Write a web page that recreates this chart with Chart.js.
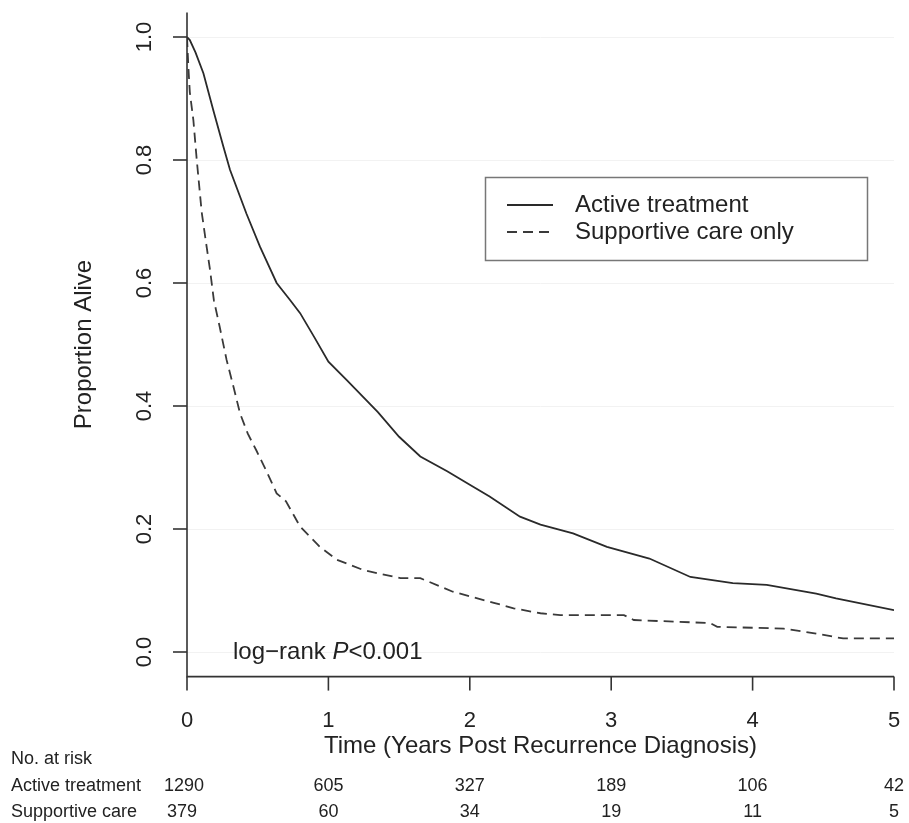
<!DOCTYPE html>
<html>
<head>
<meta charset="utf-8">
<script src="https://cdn.jsdelivr.net/npm/chart.js@4.4.1/dist/chart.umd.min.js"></script>
<style>
  html, body { margin: 0; padding: 0; background: #fff; }
  #km { display: block; }
</style>
</head>
<body>
<canvas id="km" width="909" height="823"></canvas>
<script>
// survival curves (years, proportion alive)
const activeTime = [0, 0.02, 0.06, 0.116, 0.186, 0.257, 0.304, 0.42, 0.516, 0.634, 0.73, 0.80, 0.90, 1.0, 1.13, 1.35, 1.5, 1.65, 1.84, 2.0, 2.14, 2.355, 2.5, 2.73, 2.97, 3.27, 3.56, 3.86, 4.10, 4.45, 4.59, 5.0];
const activeSurv = [1.0, 0.995, 0.975, 0.941, 0.881, 0.822, 0.784, 0.713, 0.659, 0.600, 0.572, 0.551, 0.512, 0.472, 0.442, 0.390, 0.350, 0.318, 0.294, 0.272, 0.253, 0.220, 0.207, 0.193, 0.171, 0.152, 0.122, 0.112, 0.109, 0.095, 0.087, 0.068];

const supportTime = [0, 0.01, 0.02, 0.045, 0.069, 0.104, 0.135, 0.163, 0.19, 0.23, 0.28, 0.33, 0.375, 0.43, 0.49, 0.56, 0.634, 0.70, 0.80, 0.94, 1.06, 1.25, 1.51, 1.65, 1.88, 2.17, 2.31, 2.5, 2.64, 3.09, 3.16, 3.70, 3.75, 4.22, 4.45, 4.64, 5.0];
const supportSurv = [1.0, 0.95, 0.91, 0.865, 0.80, 0.715, 0.665, 0.621, 0.572, 0.53, 0.475, 0.43, 0.388, 0.355, 0.328, 0.295, 0.258, 0.245, 0.204, 0.171, 0.150, 0.133, 0.120, 0.120, 0.098, 0.080, 0.071, 0.063, 0.060, 0.060, 0.052, 0.047, 0.041, 0.038, 0.030, 0.022, 0.022];

const seriesNames = ['Active treatment', 'Supportive care only'];
const xTicks = [0, 1, 2, 3, 4, 5];
const yTicks = [0.0, 0.2, 0.4, 0.6, 0.8, 1.0];

const riskGroups = ['Active treatment', 'Supportive care'];
const activeRisk = [1290, 605, 327, 189, 106, 42];
const supportRisk = [379, 60, 34, 19, 11, 5];

const FONT = '"Liberation Sans", Arial, sans-serif';
const INK = '#222';

function toPoints(xs, ys) {
    return xs.map((x, i) => ({ x: x, y: ys[i] }));
}

const kmDecor = {
    id: 'kmDecor',
    beforeDatasetsDraw(chart) {
        const { ctx, chartArea, scales: { y } } = chart;
        ctx.save();
        ctx.strokeStyle = '#f2f2f2';
        ctx.lineWidth = 1;
        yTicks.forEach(v => {
            const py = Math.round(y.getPixelForValue(v)) + 0.5;
            ctx.beginPath();
            ctx.moveTo(chartArea.left, py);
            ctx.lineTo(chartArea.right, py);
            ctx.stroke();
        });
        ctx.restore();
    },
    afterDraw(chart) {
        const { ctx, chartArea, scales: { x, y } } = chart;
        const ca = chartArea;
        ctx.save();
        ctx.strokeStyle = '#333';
        ctx.fillStyle = INK;
        ctx.lineWidth = 1.6;

        // axis lines (L box)
        ctx.beginPath();
        ctx.moveTo(ca.left, ca.top);
        ctx.lineTo(ca.left, ca.bottom);
        ctx.lineTo(ca.right, ca.bottom);
        ctx.stroke();

        // y ticks + rotated labels
        ctx.font = '22px ' + FONT;
        yTicks.forEach(v => {
            const py = y.getPixelForValue(v);
            ctx.beginPath();
            ctx.moveTo(ca.left - 14, py);
            ctx.lineTo(ca.left, py);
            ctx.stroke();
            ctx.save();
            ctx.translate(ca.left - 42, py);
            ctx.rotate(-Math.PI / 2);
            ctx.textAlign = 'center';
            ctx.textBaseline = 'middle';
            ctx.fillText(v.toFixed(1), 0, 0);
            ctx.restore();
        });

        // x ticks + labels
        xTicks.forEach(v => {
            const px = x.getPixelForValue(v);
            ctx.beginPath();
            ctx.moveTo(px, ca.bottom);
            ctx.lineTo(px, ca.bottom + 14);
            ctx.stroke();
            ctx.textAlign = 'center';
            ctx.textBaseline = 'middle';
            ctx.fillText(String(v), px, 721);
        });

        // axis titles
        ctx.font = '24px ' + FONT;
        ctx.textAlign = 'center';
        ctx.textBaseline = 'middle';
        ctx.fillText('Time (Years Post Recurrence Diagnosis)', (ca.left + ca.right) / 2, 746);
        ctx.save();
        ctx.translate(84, (ca.top + ca.bottom) / 2);
        ctx.rotate(-Math.PI / 2);
        ctx.fillText('Proportion Alive', 0, 0);
        ctx.restore();

        // log-rank note
        ctx.textAlign = 'left';
        const ly = y.getPixelForValue(0);
        let lx = 233;
        ctx.fillText('log\u2212rank ', lx, ly);
        lx += ctx.measureText('log\u2212rank ').width;
        ctx.font = 'italic 24px ' + FONT;
        ctx.fillText('P', lx, ly);
        lx += ctx.measureText('P').width;
        ctx.font = '24px ' + FONT;
        ctx.fillText('<0.001', lx, ly);

        // legend box
        ctx.strokeStyle = '#777';
        ctx.lineWidth = 1.5;
        ctx.strokeRect(485.5, 177.5, 382, 83);
        const rows = [205, 232];
        chart.data.datasets.forEach((ds, i) => {
            ctx.strokeStyle = ds.borderColor;
            ctx.lineWidth = ds.borderWidth;
            ctx.setLineDash(ds.borderDash || []);
            ctx.beginPath();
            ctx.moveTo(507, rows[i]);
            ctx.lineTo(553, rows[i]);
            ctx.stroke();
            ctx.setLineDash([]);
            ctx.fillStyle = INK;
            ctx.font = '24px ' + FONT;
            ctx.textAlign = 'left';
            ctx.fillText(ds.label, 575, rows[i]);
        });

        // number at risk table
        ctx.fillStyle = INK;
        ctx.font = '18px ' + FONT;
        ctx.textAlign = 'left';
        ctx.fillText('No. at risk', 11, 759);
        ctx.fillText(riskGroups[0], 11, 786);
        ctx.fillText(riskGroups[1], 11, 812);
        ctx.textAlign = 'center';
        xTicks.forEach((v, i) => {
            const px = x.getPixelForValue(v);
            ctx.fillText(String(activeRisk[i]), px - (i === 0 ? 3 : 0), 786);
            ctx.fillText(String(supportRisk[i]), px - (i === 0 ? 5 : 0), 812);
        });
        ctx.restore();
    }
};

new Chart(document.getElementById('km').getContext('2d'), {
    type: 'line',
    data: {
        datasets: [{
            label: seriesNames[0],
            data: toPoints(activeTime, activeSurv),
            borderColor: '#2a2a2a',
            borderWidth: 1.8,
            pointRadius: 0,
            tension: 0,
            fill: false
        }, {
            label: seriesNames[1],
            data: toPoints(supportTime, supportSurv),
            borderColor: '#3a3a3a',
            borderWidth: 1.8,
            borderDash: [10, 6],
            pointRadius: 0,
            tension: 0,
            fill: false
        }]
    },
    options: {
        responsive: false,
        animation: false,
        devicePixelRatio: 1,
        layout: {
            padding: { left: 187, right: 15, top: 12.4, bottom: 146.4 }
        },
        scales: {
            x: { type: 'linear', min: 0, max: 5, display: false },
            y: { type: 'linear', min: -0.04, max: 1.04, display: false }
        },
        plugins: {
            legend: { display: false },
            tooltip: { enabled: false }
        }
    },
    plugins: [kmDecor]
});
</script>
</body>
</html>
